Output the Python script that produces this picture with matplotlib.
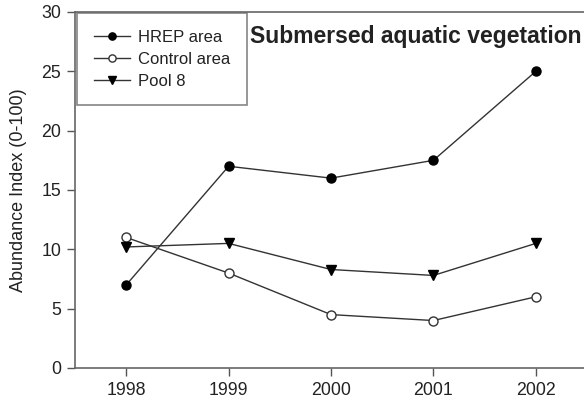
import matplotlib.pyplot as plt

years = [1998, 1999, 2000, 2001, 2002]
hrep = [7.0, 17.0, 16.0, 17.5, 25.0]
control = [11.0, 8.0, 4.5, 4.0, 6.0]
pool8 = [10.2, 10.5, 8.3, 7.8, 10.5]

plt.rcParams['font.family'] = ['Liberation Sans', 'DejaVu Sans']
grey = '#555555'
line_c = '#333333'
txt_c = '#222222'

fig = plt.figure(figsize=(5.84, 4.04), dpi=100)
# right spine sits just beyond the picture edge in the reference
ax = fig.add_axes([75 / 584, 36 / 404, 512 / 584, 356 / 404])

ax.plot(years, hrep, marker='o', color=line_c, markerfacecolor='black',
        markeredgecolor='black', markersize=6.5, linewidth=1, label='HREP area')
ax.plot(years, control, marker='o', color=line_c, markerfacecolor='white',
        markeredgecolor=line_c, markersize=6.5, linewidth=1, label='Control area')
ax.plot(years, pool8, marker='v', color=line_c, markerfacecolor='black',
        markeredgecolor='black', markersize=6.5, linewidth=1, label='Pool 8')

ax.set_xlim(1997.5, 2002.5)
ax.set_ylim(0, 30)
ax.set_xticks(years)
ax.set_yticks([0, 5, 10, 15, 20, 25, 30])
ax.tick_params(direction='out', length=6, width=1, color=grey,
               labelsize=12.8, labelcolor=txt_c, pad=4)
for s in ax.spines.values():
    s.set_color('#666666')
    s.set_linewidth(1.2)

ax.set_ylabel('Abundance Index (0-100)', fontsize=13, color=txt_c, labelpad=10)

leg = ax.legend(loc='upper left', bbox_to_anchor=(0.004, 0.997), fontsize=12,
                frameon=True, fancybox=False, edgecolor='#666666',
                borderpad=1.0, handlelength=2.2, labelspacing=0.42,
                handletextpad=0.45, borderaxespad=0, markerscale=0.8)
leg.get_frame().set_linewidth(1.2)
for t in leg.get_texts():
    t.set_color(txt_c)

fig.text(250 / 584, 1 - 37 / 404, 'Submersed aquatic vegetation',
         fontsize=16.5, fontweight='bold', color=txt_c, va='center', ha='left')

fig.savefig('out.png', dpi=100)
